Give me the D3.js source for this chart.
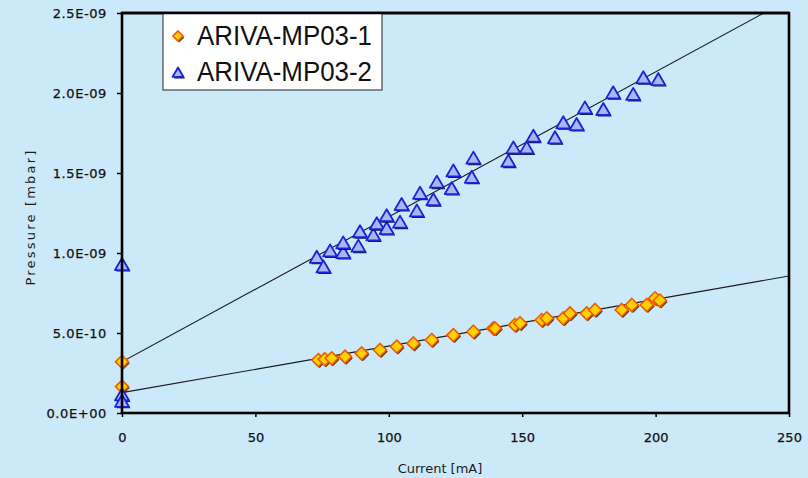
<!DOCTYPE html>
<html><head><meta charset="utf-8">
<script src="https://cdn.jsdelivr.net/npm/d3@7"></script>
<style>html,body{margin:0;padding:0;background:#cce9f9;}svg{display:block;}</style>
</head><body>
<script>
// ---- data ----
const seriesNames = ["ARIVA-MP03-1", "ARIVA-MP03-2"];
// ARIVA-MP03-1 (diamonds): current [mA], pressure [mbar]
const current1 = [0, 0, 73.6, 76, 78.6, 83.6, 89.8, 96.7, 103.0, 109.2, 116.1, 124.2, 131.7, 139.2, 139.8, 147.3, 149.2, 157.3, 159.2, 165.4, 167.9, 174.2, 177.3, 187.3, 191.1, 196.7, 199.8, 201.6];
const pressure1 = [3.2e-10, 1.65e-10, 3.31e-10, 3.36e-10, 3.42e-10, 3.52e-10, 3.73e-10, 3.94e-10, 4.15e-10, 4.35e-10, 4.56e-10, 4.87e-10, 5.08e-10, 5.29e-10, 5.29e-10, 5.5e-10, 5.61e-10, 5.81e-10, 5.92e-10, 5.92e-10, 6.23e-10, 6.23e-10, 6.44e-10, 6.44e-10, 6.75e-10, 6.75e-10, 7.17e-10, 7.03e-10];
// ARIVA-MP03-2 (triangles)
const current2 = [0, 0, 0, 73.0, 75.5, 78.0, 82.9, 82.9, 88.6, 89.2, 94.2, 95.5, 99.2, 99.2, 104.2, 104.8, 110.5, 111.7, 116.7, 118.0, 123.6, 124.2, 131.1, 131.7, 144.8, 146.7, 151.7, 154.2, 162.3, 165.4, 170.4, 173.5, 180.4, 184.1, 191.6, 195.4, 201.0];
const pressure2 = [9.25e-10, 1.1e-10, 0.7e-10, 9.7e-10, 9.1e-10, 10.1e-10, 10.0e-10, 10.6e-10, 10.4e-10, 11.3e-10, 11.1e-10, 11.8e-10, 11.5e-10, 12.3e-10, 11.9e-10, 13.0e-10, 12.6e-10, 13.7e-10, 13.3e-10, 14.4e-10, 14.0e-10, 15.1e-10, 14.7e-10, 15.9e-10, 15.71e-10, 16.54e-10, 16.54e-10, 17.27e-10, 17.17e-10, 18.11e-10, 18.0e-10, 19.04e-10, 18.94e-10, 19.98e-10, 19.88e-10, 20.92e-10, 20.81e-10];
// linear trend lines (endpoints at current 0 and 250)
const trendCurrent = [0, 250];
const trend1 = [1.27e-10, 8.56e-10];
const trend2 = [3.2e-10, 25.85e-10];
// axes
const xTicks = [0, 50, 100, 150, 200, 250];
const yTicks = [0, 5e-10, 1e-9, 1.5e-9, 2e-9, 2.5e-9];
const yTickLabels = ["0.0E+00", "5.0E-10", "1.0E-09", "1.5E-09", "2.0E-09", "2.5E-09"];
const xTitle = "Current [mA]";
const yTitle = "Pressure [mbar]";

// ---- chart ----
const W = 808, H = 478;
const L = 122, R = 789, T = 13, B = 413;
const svg = d3.select("body").append("svg").attr("width", W).attr("height", H);
svg.append("rect").attr("width", W).attr("height", H).attr("fill", "#cce9f9");

const x = d3.scaleLinear().domain([0, 250]).range([L, R]);
const y = d3.scaleLinear().domain([0, 2.5e-9]).range([B, T]);

svg.append("defs").append("clipPath").attr("id", "clip")
  .append("rect").attr("x", L).attr("y", T).attr("width", R - L).attr("height", B - T);

const tickFont = "'DejaVu Sans', sans-serif";

// y axis
const gy = svg.append("g").attr("transform", `translate(${L},0)`)
  .call(d3.axisLeft(y).tickValues(yTicks).tickSize(5).tickPadding(10).tickFormat((d, i) => yTickLabels[i]));
gy.select(".domain").remove();
gy.selectAll(".tick line").attr("stroke", "#000").attr("stroke-width", 1.5);
gy.selectAll(".tick text").attr("font-family", tickFont).attr("font-size", 13).attr("fill", "#111")
  .attr("stroke", "#111").attr("stroke-width", 0.25)
  .attr("letter-spacing", 0.6).attr("dy", "0.36em");

// x axis
const gx = svg.append("g").attr("transform", `translate(0,${B})`)
  .call(d3.axisBottom(x).tickValues(xTicks).tickSize(4).tickPadding(16).tickFormat(d3.format("d")));
gx.select(".domain").remove();
gx.selectAll(".tick line").attr("stroke", "#000").attr("stroke-width", 1.5);
gx.selectAll(".tick text").attr("font-family", tickFont).attr("font-size", 13).attr("fill", "#111")
  .attr("stroke", "#111").attr("stroke-width", 0.25);

// axis titles
svg.append("text").attr("x", 440).attr("y", 473).attr("text-anchor", "middle")
  .attr("font-family", tickFont).attr("font-size", 13).attr("fill", "#1a1a1a").text(xTitle);
svg.append("text").attr("transform", "translate(35,217) rotate(-90)").attr("text-anchor", "middle")
  .attr("font-family", tickFont).attr("font-size", 13).attr("letter-spacing", 2.2).attr("fill", "#1a1a1a").text(yTitle);

// trend lines
const line = d3.line().x(d => x(d[0])).y(d => y(d[1]));
const plot = svg.append("g").attr("clip-path", "url(#clip)");
[trend1, trend2].forEach(t => {
  plot.append("path").datum(trendCurrent.map((c, i) => [c, t[i]]))
    .attr("d", line).attr("fill", "none").attr("stroke", "#1a1a1a").attr("stroke-width", 1.1);
});

// marker shapes
function drawDiamond(g, cx, cy, s) {
  const p = `M0,${-s}L${s},0L0,${s}L${-s},0Z`;
  g.append("path").attr("d", p).attr("transform", `translate(${cx + 1.2},${cy + 1.5})`)
    .attr("fill", "#3a1a00").attr("opacity", 0.85);
  g.append("path").attr("d", p).attr("transform", `translate(${cx},${cy})`)
    .attr("fill", "#ffd200").attr("stroke", "#f05a00").attr("stroke-width", 1.6);
}
function drawTri(g, cx, cy, s) {
  const p = `M0,${-s}L${s},${s * 0.72}L${-s},${s * 0.72}Z`;
  g.append("path").attr("d", p).attr("transform", `translate(${cx + 1.5},${cy + 1.5})`)
    .attr("fill", "#000033").attr("opacity", 0.9);
  g.append("path").attr("d", p).attr("transform", `translate(${cx},${cy})`)
    .attr("fill", "#a9b6f2").attr("stroke", "#1a24d8").attr("stroke-width", 1.8).attr("stroke-linejoin", "round");
}

const mk = svg.append("g");
current1.forEach((c, i) => drawDiamond(mk, x(c), y(pressure1[i]), 6.5));
current2.forEach((c, i) => drawTri(mk, x(c), y(pressure2[i]), 7));

// frame
svg.append("rect").attr("x", L).attr("y", T).attr("width", R - L).attr("height", B - T)
  .attr("fill", "none").attr("stroke", "#000").attr("stroke-width", 2.6);

// legend
const lg = svg.append("g");
lg.append("rect").attr("x", 163).attr("y", 13).attr("width", 219).attr("height", 77)
  .attr("fill", "#ffffff").attr("stroke", "#222").attr("stroke-width", 1);
drawDiamond(lg, 178, 36, 5);
drawTri(lg, 178, 73, 5.5);
seriesNames.forEach((n, i) => {
  lg.append("text").attr("x", 197).attr("y", 45 + i * 36)
    .attr("font-family", "'Liberation Sans', Arial, sans-serif").attr("font-size", 27)
    .attr("fill", "#111").attr("textLength", 175).attr("lengthAdjust", "spacingAndGlyphs").text(n);
});
// re-draw top frame edge over legend
svg.append("line").attr("x1", L).attr("x2", R).attr("y1", T).attr("y2", T)
  .attr("stroke", "#000").attr("stroke-width", 2.6);
</script>
</body></html>
